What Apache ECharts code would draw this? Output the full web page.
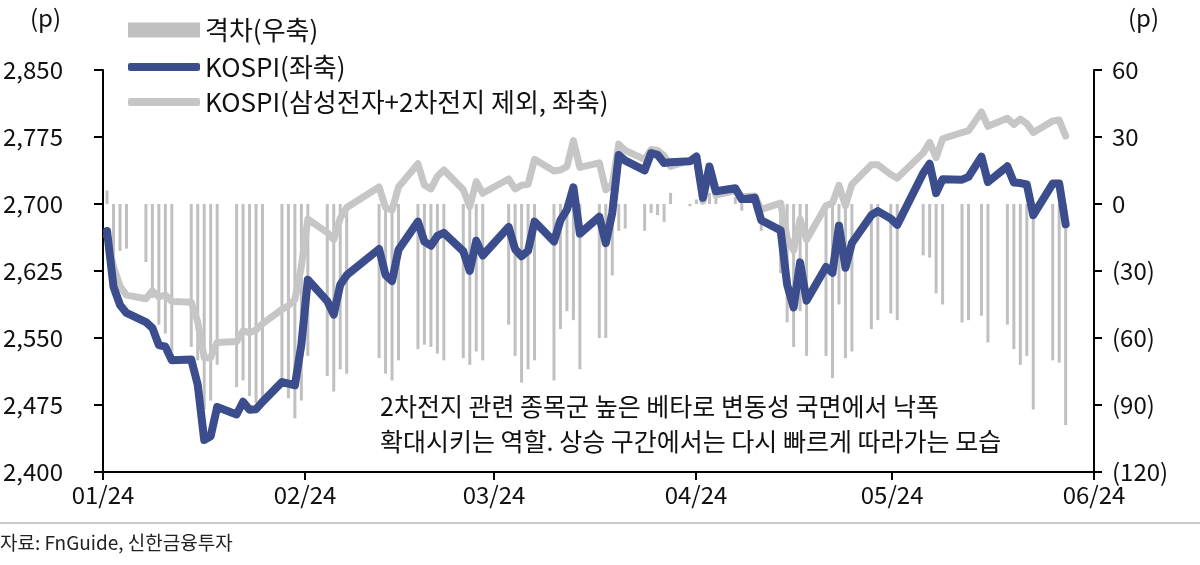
<!DOCTYPE html>
<html><head><meta charset="utf-8">
<script src="https://cdn.jsdelivr.net/npm/echarts@6/dist/echarts.min.js"></script>
<style>html,body{margin:0;padding:0;background:#fff}#c{width:1200px;height:565px}</style>
</head><body><div id="c"></div>
<script>
// ---- data ----
const dates = [
 '2024-01-02','2024-01-03','2024-01-04','2024-01-05','2024-01-08','2024-01-09','2024-01-10','2024-01-11','2024-01-12','2024-01-15','2024-01-16','2024-01-17','2024-01-18','2024-01-19','2024-01-22','2024-01-23','2024-01-24','2024-01-25','2024-01-26','2024-01-29','2024-01-30','2024-01-31',
 '2024-02-01','2024-02-02','2024-02-05','2024-02-06','2024-02-07','2024-02-08','2024-02-13','2024-02-14','2024-02-15','2024-02-16','2024-02-19','2024-02-20','2024-02-21','2024-02-22','2024-02-23','2024-02-26','2024-02-27','2024-02-28','2024-02-29',
 '2024-03-04','2024-03-05','2024-03-06','2024-03-07','2024-03-08','2024-03-11','2024-03-12','2024-03-13','2024-03-14','2024-03-15','2024-03-18','2024-03-19','2024-03-20','2024-03-21','2024-03-22','2024-03-25','2024-03-26','2024-03-27','2024-03-28','2024-03-29',
 '2024-04-01','2024-04-02','2024-04-03','2024-04-04','2024-04-05','2024-04-08','2024-04-09','2024-04-11','2024-04-12','2024-04-15','2024-04-16','2024-04-17','2024-04-18','2024-04-19','2024-04-22','2024-04-23','2024-04-24','2024-04-25','2024-04-26','2024-04-29','2024-04-30',
 '2024-05-02','2024-05-03','2024-05-07','2024-05-08','2024-05-09','2024-05-10','2024-05-13','2024-05-14','2024-05-16','2024-05-17','2024-05-20','2024-05-21','2024-05-22','2024-05-23','2024-05-24','2024-05-27','2024-05-28','2024-05-29'
];
const kospi = [
 2669.81,2607.31,2587.02,2578.08,2567.82,2561.24,2541.98,2540.27,2525.05,2525.99,2497.59,2435.90,2440.04,2472.74,2464.35,2478.61,2469.69,2470.34,2478.56,2500.65,2498.81,2497.09,
 2542.46,2615.31,2591.31,2576.20,2609.58,2620.32,2649.64,2620.42,2613.80,2648.76,2680.26,2657.79,2653.31,2664.27,2667.70,2647.08,2625.05,2658.84,2642.36,
 2674.27,2649.40,2641.49,2647.62,2680.35,2658.00,2681.81,2693.57,2718.76,2666.84,2685.84,2656.17,2690.14,2754.86,2748.56,2737.57,2757.09,2755.11,2745.82,2746.63,
 2747.86,2753.16,2706.97,2742.00,2714.21,2717.65,2705.16,2706.96,2681.82,2670.43,2609.63,2584.18,2634.70,2591.86,2629.44,2623.02,2675.75,2628.62,2656.33,2687.44,2692.06,
 2683.65,2676.63,2734.36,2745.05,2712.14,2727.63,2727.21,2730.34,2753.00,2724.62,2742.14,2724.18,2723.46,2721.81,2687.60,2722.85,2722.99,2677.30
];
const kospiEx = [
 2664,2630,2608,2598,2594,2603,2596,2598,2591,2590,2568,2528,2528,2545,2546,2558,2556,2559,2566,2582,2586,2593,
 2630,2683,2668,2660,2684,2696,2719,2696,2693,2719,2745,2721,2717,2731,2738,2716,2697,2725,2712,
 2728,2717,2721,2722,2750,2737,2738,2742,2771,2741,2746,2716,2722,2767,2760,2750,2761,2760,2754,2742,
 2749,2751,2703,2737,2710,2715,2708,2709,2694,2701,2662,2648,2683,2660,2698,2701,2721,2698,2722,2744,2744,
 2733,2729,2757,2769,2752,2773,2780,2782,2803,2787,2796,2789,2795,2790,2780,2793,2794,2776
];
const gap = [
 6,-23,-21,-20,-26,-42,-54,-58,-66,-64,-70,-92,-88,-72,-82,-79,-86,-89,-87,-81,-87,-96,
 -88,-68,-77,-84,-74,-76,-69,-76,-79,-70,-65,-63,-64,-67,-70,-69,-72,-66,-70,
 -54,-68,-80,-74,-70,-79,-56,-48,-52,-74,-60,-60,-32,-12,-11,-12,-4,-5,-8,5,
 -1,2,4,5,4,3,-3,-2,-12,-31,-53,-64,-48,-68,-68,-78,-45,-69,-66,-56,-52,
 -49,-52,-23,-24,-40,-45,-53,-52,-50,-62,-54,-65,-72,-68,-92,-70,-71,-99
];
const xTickLabels = ['01/24','02/24','03/24','04/24','05/24','06/24'];
const xTickDates  = ['2024-01-01T09:00','2024-02-01T13:40','2024-03-01T18:00','2024-04-01T22:30','2024-05-02T05:00','2024-06-02T09:00'];
const seriesNames = ['격차(우축)','KOSPI(좌축)','KOSPI(삼성전자+2차전지 제외, 좌축)'];

// ---- build ----
const ts = s => new Date(s.length === 10 ? s + 'T00:00:00' : s).getTime();
const tickVals = xTickDates.map(ts);
const xs = dates.map(ts);
const FONT = '"Noto Sans CJK KR", "Noto Sans", sans-serif';
const NAVY = '#3b4d8c', LGRAY = '#c6c6c6', BGRAY = '#c0c0c0';

const chart = echarts.init(document.getElementById('c'), null, {renderer: 'canvas'});
const legendBase = {
  left: 128, orient: 'horizontal', selectedMode: false, itemGap: 0, padding: 0,
  itemWidth: 72, textStyle: {fontFamily: FONT, fontSize: 26, color: '#111', lineHeight: 28},
  itemStyle: {borderWidth: 0}
};
chart.setOption({
  animation: false,
  textStyle: {fontFamily: FONT},
  grid: {left: 103, right: 106, top: 70, bottom: 93},
  legend: [
    Object.assign({}, legendBase, {top: 16, data: [seriesNames[0]], icon: 'rect', itemHeight: 15}),
    Object.assign({}, legendBase, {top: 53, data: [seriesNames[1]], icon: 'roundRect', itemHeight: 8}),
    Object.assign({}, legendBase, {top: 88, data: [seriesNames[2]], icon: 'roundRect', itemHeight: 8})
  ],
  xAxis: {
    type: 'value', min: tickVals[0], max: tickVals[tickVals.length - 1], scale: true,
    axisLine: {show: true, onZero: false, lineStyle: {color: '#000', width: 2}},
    axisTick: {show: true, customValues: tickVals, length: 8, lineStyle: {color: '#000', width: 2}},
    axisLabel: {
      customValues: tickVals, showMinLabel: true, showMaxLabel: true,
      fontFamily: FONT, fontSize: 24, color: '#111', margin: 11,
      formatter: v => {
        let best = 0, bd = Infinity;
        tickVals.forEach((t, i) => { const d = Math.abs(t - v); if (d < bd) { bd = d; best = i; } });
        return xTickLabels[best];
      }
    },
    splitLine: {show: false}
  },
  yAxis: [
    {
      type: 'value', position: 'left', min: 2400, max: 2850, interval: 75,
      axisLine: {show: true, lineStyle: {color: '#000', width: 2}},
      axisTick: {show: true, length: 9, lineStyle: {color: '#000', width: 2}},
      axisLabel: {fontFamily: FONT, fontSize: 24, color: '#111', margin: 40,
        formatter: v => v.toLocaleString('en-US')},
      splitLine: {show: false}
    },
    {
      type: 'value', position: 'right', min: -120, max: 60, interval: 30,
      axisLine: {show: true, lineStyle: {color: '#000', width: 2}},
      axisTick: {show: true, length: 8, lineStyle: {color: '#000', width: 2}},
      axisLabel: {fontFamily: FONT, fontSize: 24, color: '#111', margin: 18,
        formatter: v => v < 0 ? '(' + (-v) + ')' : String(v)},
      splitLine: {show: false}
    }
  ],
  series: [
    {
      name: seriesNames[0], type: 'bar', yAxisIndex: 1, barWidth: 3, z: 1,
      itemStyle: {color: BGRAY}, color: BGRAY,
      data: xs.map((x, i) => [x, gap[i]])
    },
    {
      name: seriesNames[2], type: 'line', yAxisIndex: 0, symbol: 'none', z: 2,
      color: LGRAY, itemStyle: {color: LGRAY},
      lineStyle: {color: LGRAY, width: 7, cap: 'round', join: 'round'},
      data: xs.map((x, i) => [x, kospiEx[i]])
    },
    {
      name: seriesNames[1], type: 'line', yAxisIndex: 0, symbol: 'none', z: 3,
      color: NAVY, itemStyle: {color: NAVY},
      lineStyle: {color: NAVY, width: 8, cap: 'round', join: 'round'},
      data: xs.map((x, i) => [x, kospi[i]])
    }
  ],
  graphic: [
    {type: 'text', left: 30, top: 6, style: {text: '(p)', fontFamily: FONT, fontSize: 24, fill: '#111'}},
    {type: 'text', left: 1128, top: 6, style: {text: '(p)', fontFamily: FONT, fontSize: 24, fill: '#111'}},
    {type: 'text', left: 380, top: 394, z: 10, style: {text: '2차전지 관련 종목군 높은 베타로 변동성 국면에서 낙폭', fontFamily: FONT, fontSize: 25, fill: '#111'}},
    {type: 'text', left: 380, top: 429, z: 10, style: {text: '확대시키는 역할. 상승 구간에서는 다시 빠르게 따라가는 모습', fontFamily: FONT, fontSize: 25, fill: '#111'}},
    {type: 'line', shape: {x1: 0, y1: 523, x2: 1200, y2: 523}, style: {stroke: '#c8c8c8', lineWidth: 2}},
    {type: 'text', left: 0, top: 533, style: {text: '자료: FnGuide, 신한금융투자', fontFamily: FONT, fontSize: 19, fill: '#222'}}
  ]
});
</script>
</body></html>
